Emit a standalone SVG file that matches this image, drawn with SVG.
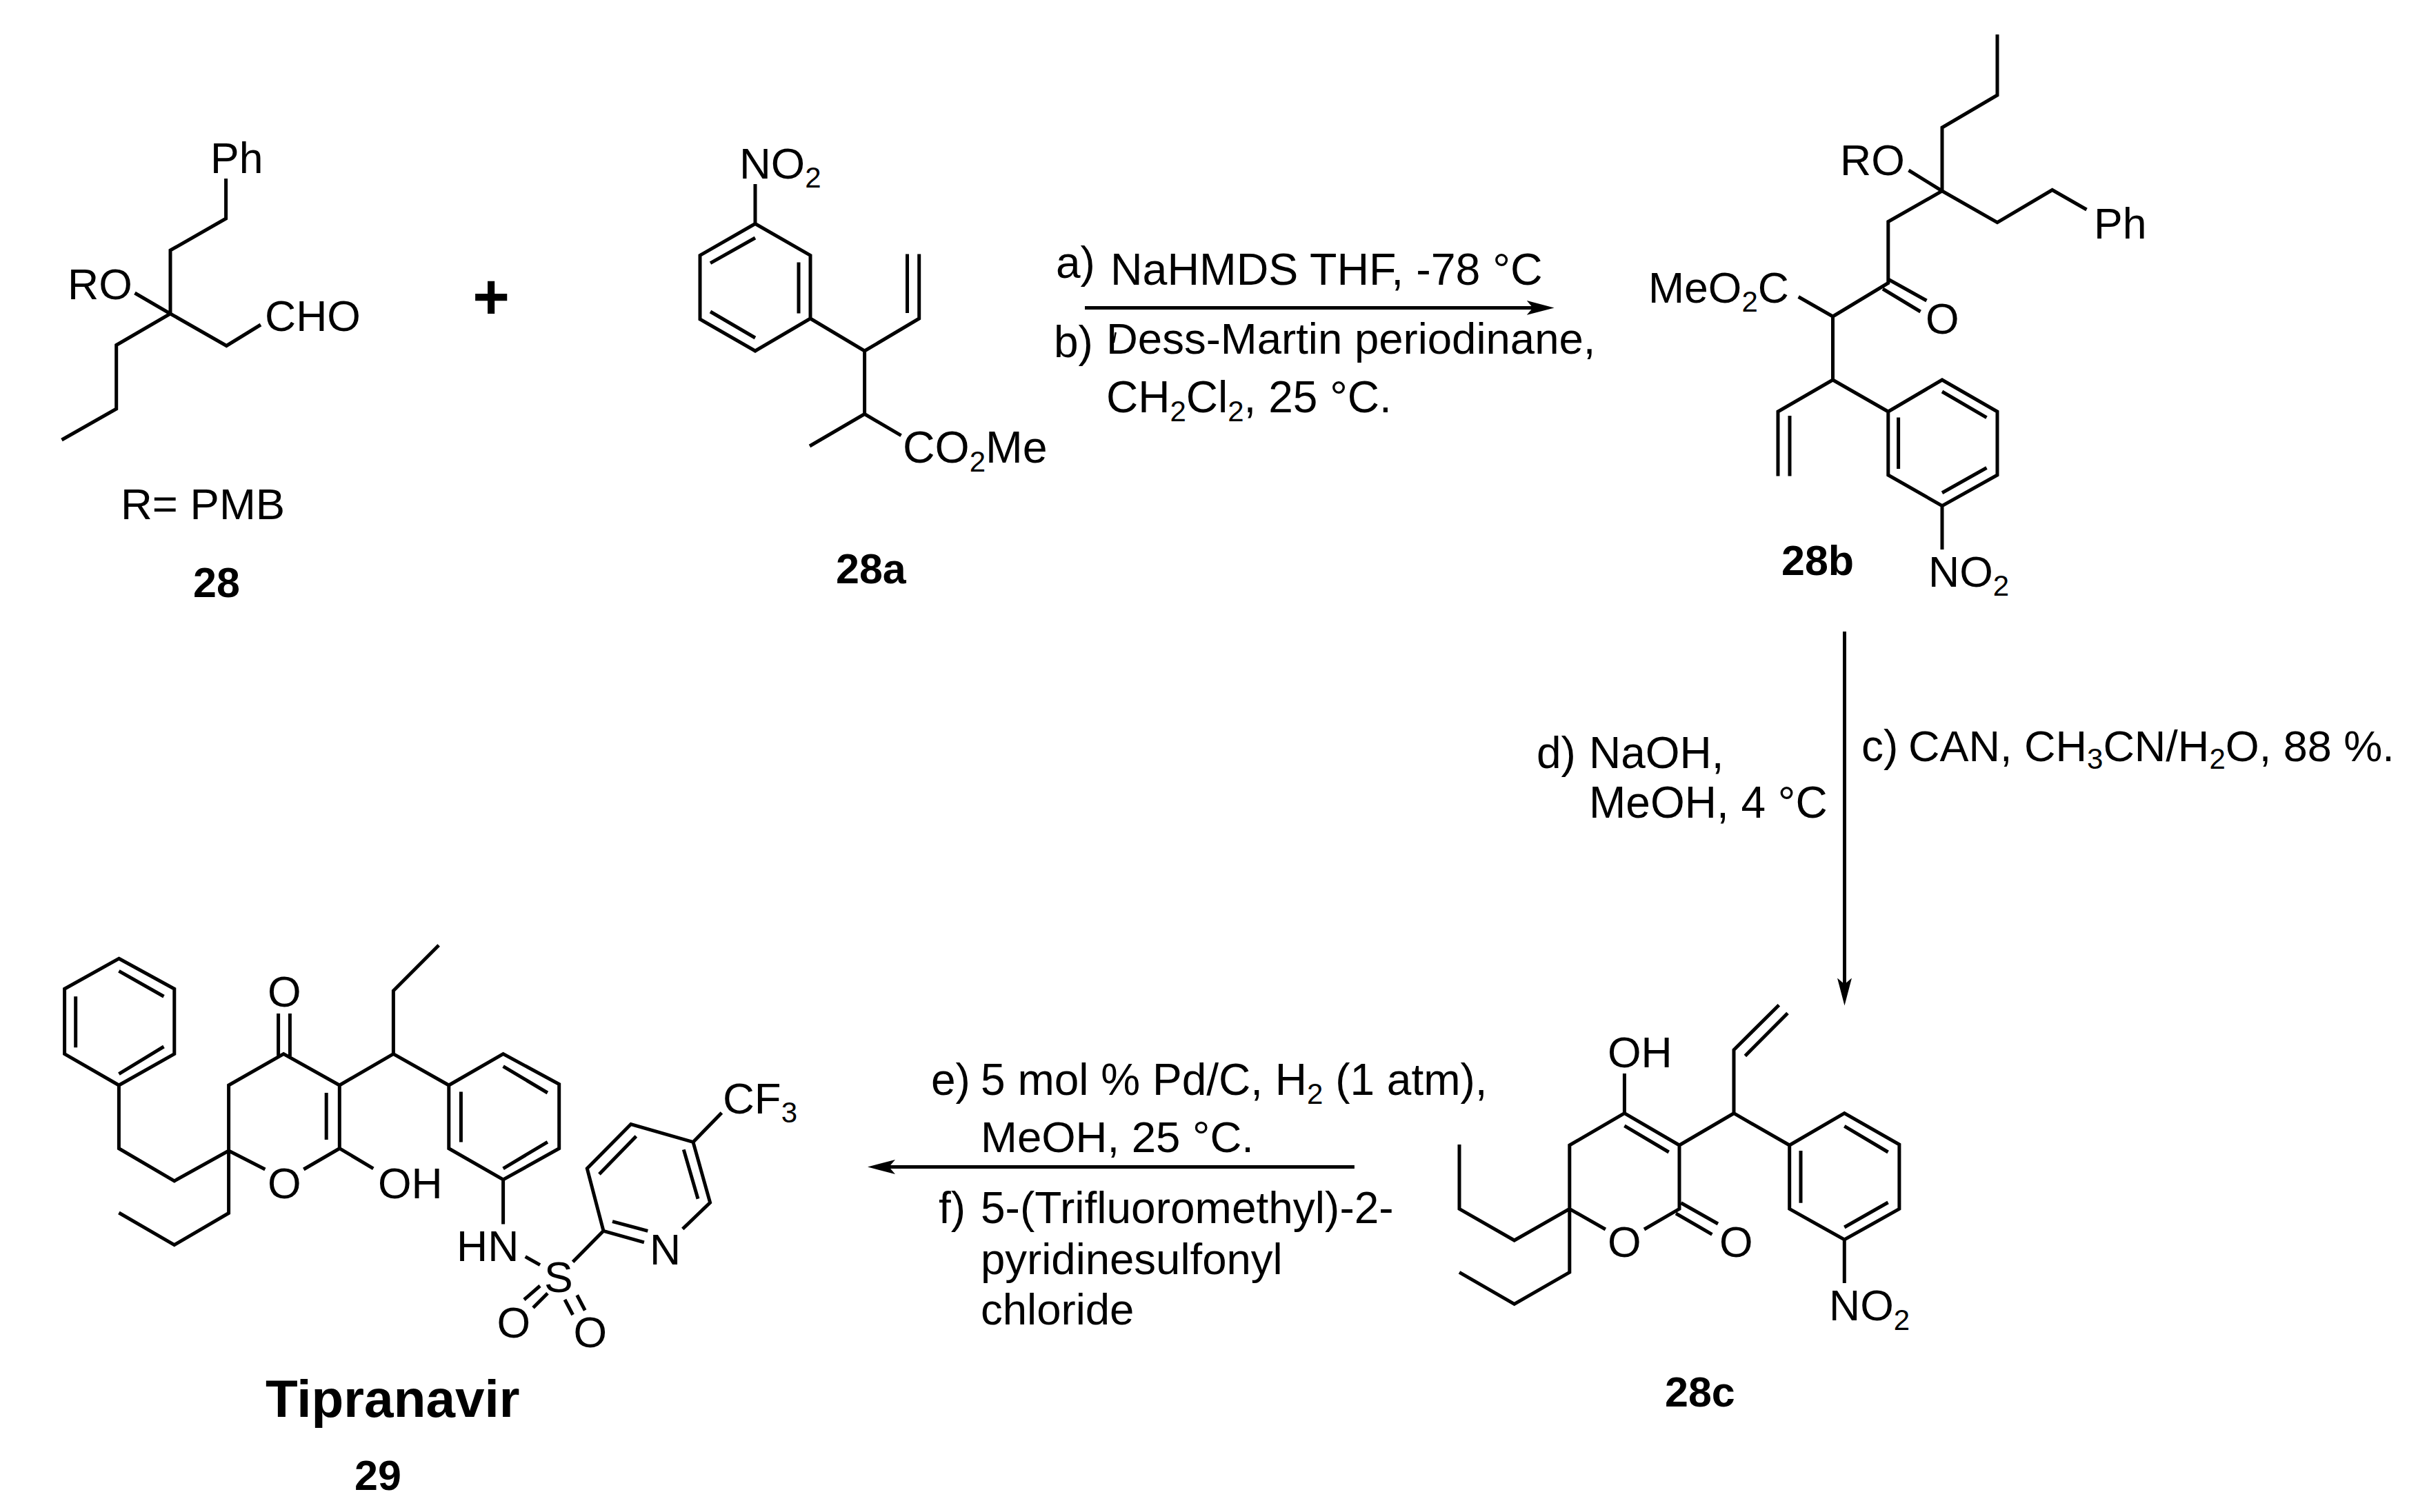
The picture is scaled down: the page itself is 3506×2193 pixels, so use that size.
<svg xmlns="http://www.w3.org/2000/svg" width="3506" height="2193" viewBox="0 0 3506 2193">
<style>
text{font-family:"Liberation Sans",Arial,sans-serif;font-size:62.5px;fill:#000}
.r{font-size:64px}
.b{font-weight:bold;font-size:61px}
.s{font-size:42px}
.bond{fill:none;stroke:#000;stroke-width:5;stroke-linejoin:miter;stroke-linecap:butt}
.arrow{fill:none;stroke:#000;stroke-width:5}
</style>
<defs>
<marker id="head" markerUnits="userSpaceOnUse" viewBox="0 0 40 24" refX="10" refY="12" markerWidth="40" markerHeight="24" orient="auto">
<path d="M0 1.5L40 12L0 22.5L9 12Z" fill="#000"/>
</marker>
</defs>
<rect width="3506" height="2193" fill="#fff"/>

<g id="mol28">
<path class="bond" d="M327.6 259V317L247 363V455M195.5 425L247 455L168.7 500.5V593L89.5 638M247 455L328.4 501.5L378 471"/>
<text x="305" y="251">Ph</text>
<text x="98" y="434">RO</text>
<text x="384" y="480">CHO</text>
<text x="175" y="753" style="font-size:63.5px">R= PMB</text>
<text class="b" x="280" y="866">28</text>
</g>

<g id="plus">
<text class="b" x="712" y="462" text-anchor="middle" style="font-size:92px">+</text>
</g>

<g id="mol28a">
<path class="bond" d="M1095 267V324.5L1175 370.4V462L1095 509L1015 463V370.4L1095 324.5M1030 381.6L1095 345M1030 452L1095 490M1158 380.6V454.6M1175 462L1253.6 509L1332.7 462V368.4M1315.5 368.4V454M1253.6 509V600.5L1174 647M1253.6 600.5L1306.6 631.6"/>
<text x="1072" y="259" style="font-size:63.5px">NO<tspan class="s" dy="13">2</tspan></text>
<text x="1309" y="671" style="font-size:64.5px">CO<tspan class="s" dy="13">2</tspan><tspan dy="-13">Me</tspan></text>
<text class="b" x="1212" y="846">28a</text>
</g>

<g id="mol28b">
<path class="bond" d="M2896 50V138L2816 185V277M2767.5 247L2816 277L2737.8 321.5V410.5L2657.5 459V551L2578 597V690.6M2595 603V690.6M2737.8 405L2793.5 436M2730 419L2784.6 452M2607.7 430.5L2657.5 459M2657.5 551L2737.8 597L2816 551L2896 597V689L2816 733.6L2737.8 689V597M2816 568L2880.5 605.6M2752.6 605.6V680M2816 714.7L2880.5 678.5M2816 733.6V797M2816 277L2896 322.6L2975.7 275.5L3025.5 304"/>
<text x="2668" y="254">RO</text>
<text x="3036" y="346">Ph</text>
<text x="2792" y="484">O</text>
<text x="2390" y="439">MeO<tspan class="s" dy="13">2</tspan><tspan dy="-13">C</tspan></text>
<text x="2796" y="851">NO<tspan class="s" dy="13">2</tspan></text>
<text class="b" x="2583" y="833.5">28b</text>
</g>

<g id="mol28c">
<path class="bond" d="M2116 1660V1753.4L2195.7 1799L2275.8 1753.4V1845.4L2195.7 1891.3L2116 1845.4M2275.8 1753.4V1661L2355.4 1614.7L2435 1661V1753.4L2384 1783M2275.8 1753.4L2327.9 1783M2355.4 1632.9L2419.7 1671M2437.5 1744.8L2491 1775M2430 1760L2482.4 1790.3M2355.4 1614.7V1557M2435 1661L2514 1614.7V1522.7L2579.4 1457.7M2530.4 1531.4L2592 1469.4M2514 1614.7L2594.7 1661L2674.3 1614.7L2753.9 1660V1753.4L2674.3 1798L2594.7 1753.4V1661M2674.3 1633.3L2737.6 1671M2611 1669V1744.8M2674.3 1780L2737.6 1744M2674.3 1798V1861"/>
<text x="2331" y="1548">OH</text>
<text x="2331" y="1823">O</text>
<text x="2493" y="1823">O</text>
<text x="2652" y="1915">NO<tspan class="s" dy="14">2</tspan></text>
<text class="b" x="2414" y="2039.5">28c</text>
</g>

<g id="mol29">
<path class="bond" d="M172.4 1390.3L252.8 1434.2V1528.6L172.4 1574L93.6 1528.6V1434.2ZM172.4 1408.4L237.5 1445.2M109.7 1445.2V1519.2M172.4 1557.6L237.5 1518M172.4 1574V1665.7L252.8 1712.9L331.6 1669V1759.5L252.8 1805.6L172.4 1759M331.6 1669V1574L411.2 1528.6L492.3 1574V1665.7L440.3 1696M331.6 1669L384.4 1696M403.6 1470V1532M420.4 1470V1532M473.2 1585V1653M492.3 1665.7L541.3 1694.8M492.3 1574L570.4 1528.6V1437L636.2 1371M570.4 1528.6L650.8 1574L729.6 1528.6L810.7 1572.5V1665.7L729.6 1711L650.8 1665.7V1574M729.6 1546.7L793.9 1585M668.4 1583.4V1656.4M729.6 1694.8L793.9 1656.4M729.6 1711V1775.4M761.7 1822.6L783 1834.7M830.6 1830.3L875 1785.3L851.3 1694.8L914.8 1630.6L1005 1656.4L1029.6 1744.2L989.8 1782.5M875 1785.3L933.9 1801.8M888 1771.6L939.3 1785.3M868.9 1703L922.4 1648M991.3 1667.4L1012 1738.7M1005 1656.4L1046.4 1614M760 1885L783 1865M773 1896.7L794 1875.8M819 1885L830.6 1907M836.7 1878.5L848.2 1900.5"/>
<text x="388" y="1460">O</text>
<text x="388" y="1737.6">O</text>
<text x="548" y="1737.6">OH</text>
<text x="662" y="1829">HN</text>
<text x="789" y="1874">S</text>
<text x="942" y="1833.6">N</text>
<text x="720.5" y="1940">O</text>
<text x="831.4" y="1953.7">O</text>
<text x="1048" y="1615" style="font-size:63.5px">CF<tspan class="s" dy="13">3</tspan></text>
<text class="b" x="385" y="2055" style="font-size:76.5px">Tipranavir</text>
<text class="b" x="514" y="2161">29</text>
</g>

<g id="connectors">
<path class="arrow" marker-end="url(#head)" d="M1573 446.4H2223.6"/>
<path class="arrow" marker-end="url(#head)" d="M2674.5 916V1428.5"/>
<path class="arrow" marker-end="url(#head)" d="M1963.9 1692.5H1288"/>
</g>

<g id="reagents">
<text class="r" x="1531" y="403">a)</text>
<text class="r" x="1610" y="413" style="font-size:64.5px">NaHMDS THF, -78 °C</text>
<text class="r" x="1528" y="518">b)</text>
<text class="r" x="1604" y="513" style="font-size:63.5px">Dess-Martin periodinane,</text>
<path class="bond" style="stroke-width:2.5" d="M1617.7 482L1614.8 497"/>
<text class="r" x="1604" y="598">CH<tspan class="s" dy="13">2</tspan><tspan dy="-13">Cl</tspan><tspan class="s" dy="13">2</tspan><tspan dy="-13">, 25 °C.</tspan></text>
<text class="r" x="2228" y="1113.6">d)</text>
<text class="r" x="2304" y="1113.6">NaOH,</text>
<text class="r" x="2304" y="1186.4">MeOH, 4 °C</text>
<text class="r" x="2699" y="1103.6">c)</text>
<text class="r" x="2767" y="1103.6" style="font-size:63px">CAN, CH<tspan class="s" dy="11">3</tspan><tspan dy="-11">CN/H</tspan><tspan class="s" dy="11">2</tspan><tspan dy="-11">O, 88 %.</tspan></text>
<text class="r" x="1350" y="1587.7">e)</text>
<text class="r" x="1422" y="1587.7">5 mol % Pd/C, H<tspan class="s" dy="13">2</tspan><tspan dy="-13"> (1 atm),</tspan></text>
<text class="r" x="1422" y="1671" style="font-size:63.5px">MeOH, 25 °C.</text>
<text class="r" x="1361" y="1774.4">f)</text>
<text class="r" x="1422" y="1774.4">5-(Trifluoromethyl)-2-</text>
<text class="r" x="1422" y="1848" style="font-size:63.5px">pyridinesulfonyl</text>
<text class="r" x="1422" y="1921" style="font-size:63.5px">chloride</text>
</g>
</svg>
